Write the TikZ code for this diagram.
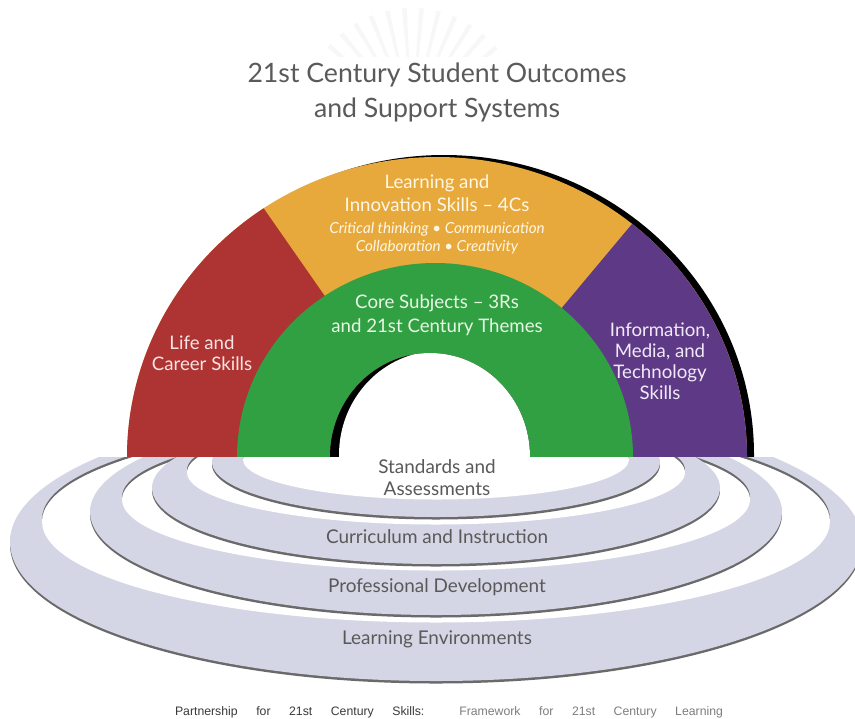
\documentclass[tikz,border=0pt]{standalone}
\usepackage{fontspec}
\setmainfont{Lato}
\newfontfamily\capfont{Liberation Sans}
\definecolor{archred}{HTML}{AE3333}
\definecolor{archorange}{HTML}{E7A93B}
\definecolor{archgreen}{HTML}{31A043}
\definecolor{archpurple}{HTML}{5E3A86}
\definecolor{ringfill}{HTML}{D5D6E5}
\definecolor{ringline}{HTML}{6A6A6A}
\definecolor{titlegray}{HTML}{5A5A5A}
\definecolor{labelgray}{HTML}{595959}
\definecolor{redtext}{HTML}{F8E4E2}
\definecolor{orangetext}{HTML}{FFF7E6}
\definecolor{greentext}{HTML}{E8F7E4}
\definecolor{purpletext}{HTML}{F1E9F7}
\definecolor{capdark}{HTML}{3A3A3A}
\definecolor{capgray}{HTML}{7E7E7E}
\newcommand\myring[7]{%
  \fill[ringline] (436,#1+2.5) ellipse [x radius=#2, y radius=#3];
  \fill[ringfill] (436,#1) ellipse [x radius=#2, y radius=#3];
  \fill[ringline] (436,#4) ellipse [x radius=#5, y radius=#6];
  \fill[white] (436,#4+#7) ellipse [x radius=#5, y radius=#6];
}
\begin{document}
\begin{tikzpicture}[x=0.75pt,y=-0.75pt,
  titletext/.style={font=\fontsize{20}{26.25}\selectfont, text=titlegray, align=center},
  ringlabel/.style={font=\fontsize{14.2}{16.5}\selectfont, text=labelgray, align=center},
  archlabel/.style={font=\fontsize{14}{17.25}\selectfont, align=center},
  architalic/.style={font=\fontsize{11.4}{13.5}\selectfont\itshape, align=center}]
\useasboundingbox (0,0) rectangle (855,718);
\fill[white] (0,0) rectangle (855,718);
% faint sunburst behind the title
\begin{scope}
  \clip (300,0) rectangle (560,56);
  \foreach \a in {212,221,...,330}
    \fill[black!3] (412,118) -- ([shift={(412,118)}]\a-1.2:110) -- ([shift={(412,118)}]\a+1.2:110) -- cycle;
\end{scope}
% depth of the arch
\begin{scope}
  \clip (0,0) rectangle (855,457);
  \fill[black] (444,455) ellipse [x radius=310, y radius=300];
\end{scope}
% front of the arch
\fill[archorange] (127,457) arc[start angle=180,end angle=360,x radius=310,y radius=300] -- cycle;
\fill[archred] (437,457) -- (127,457) arc[start angle=180,end angle=236,x radius=310,y radius=300] -- cycle;
\fill[archpurple] (437,457) -- (747,457) arc[start angle=360,end angle=309,x radius=310,y radius=300] -- cycle;
\fill[archgreen] (237,457) arc[start angle=180,end angle=360,x radius=198,y radius=194]
   -- (530,457) arc[start angle=0,end angle=-180,x radius=100,y radius=104] -- cycle;
% hole with its inner wall
\fill[black] (530,457) arc[start angle=0,end angle=-180,x radius=100,y radius=104] -- cycle;
\begin{scope}
  \clip (530,457) arc[start angle=0,end angle=-180,x radius=100,y radius=104] -- cycle;
  \fill[white] (339,459) -- (339,455) arc[start angle=180,end angle=360,x radius=100,y radius=104] -- (539,459) -- cycle;
\end{scope}
% support rings
\begin{scope}
  \clip (0,457) rectangle (855,718);
  \myring{542}{426}{139}{519}{394}{101}{2.5}
  \myring{512}{346}{103}{497}{314}{71}{2.5}
  \myring{488}{284}{76}{470}{249}{52}{2.5}
  \myring{462}{224}{55}{457}{193}{40}{2.5}
\end{scope}
% texts
\node[titletext] (title) at (437,92) {21st Century Student Outcomes\\and Support Systems};
\node[archlabel, text=orangetext] (lis) at (437,193) {Learning and\\Innovation Skills – 4Cs};
\node[architalic, text=orangetext] (fourc) at (437,238) {Critical thinking • Communication\\Collaboration • Creativity};
\node[archlabel, text=greentext, font=\fontsize{14}{18}\selectfont] (core) at (437,315) {Core Subjects – 3Rs\\and 21st Century Themes};
\node[archlabel, text=redtext, font=\fontsize{14}{15.75}\selectfont] (life) at (202,353) {Life and\\Career Skills};
\node[archlabel, text=purpletext, font=\fontsize{14}{15.75}\selectfont] (info) at (660,361) {Information,\\Media, and\\Technology\\Skills};
\node[ringlabel] (sa) at (437,478) {Standards and\\Assessments};
\node[ringlabel] (ci) at (437,537) {Curriculum and Instruction};
\node[ringlabel] (pd) at (437,587) {Professional Development};
\node[ringlabel] (le) at (437,639) {Learning Environments};
\node[font=\capfont\fontsize{9.2}{11}\selectfont, inner sep=0pt] (caption) at (449,712)
  {\makebox[411pt][s]{{\color{capdark}Partnership for 21st Century Skills:} {\color{capgray}Framework for 21st Century Learning}}};
\end{tikzpicture}
\end{document}
